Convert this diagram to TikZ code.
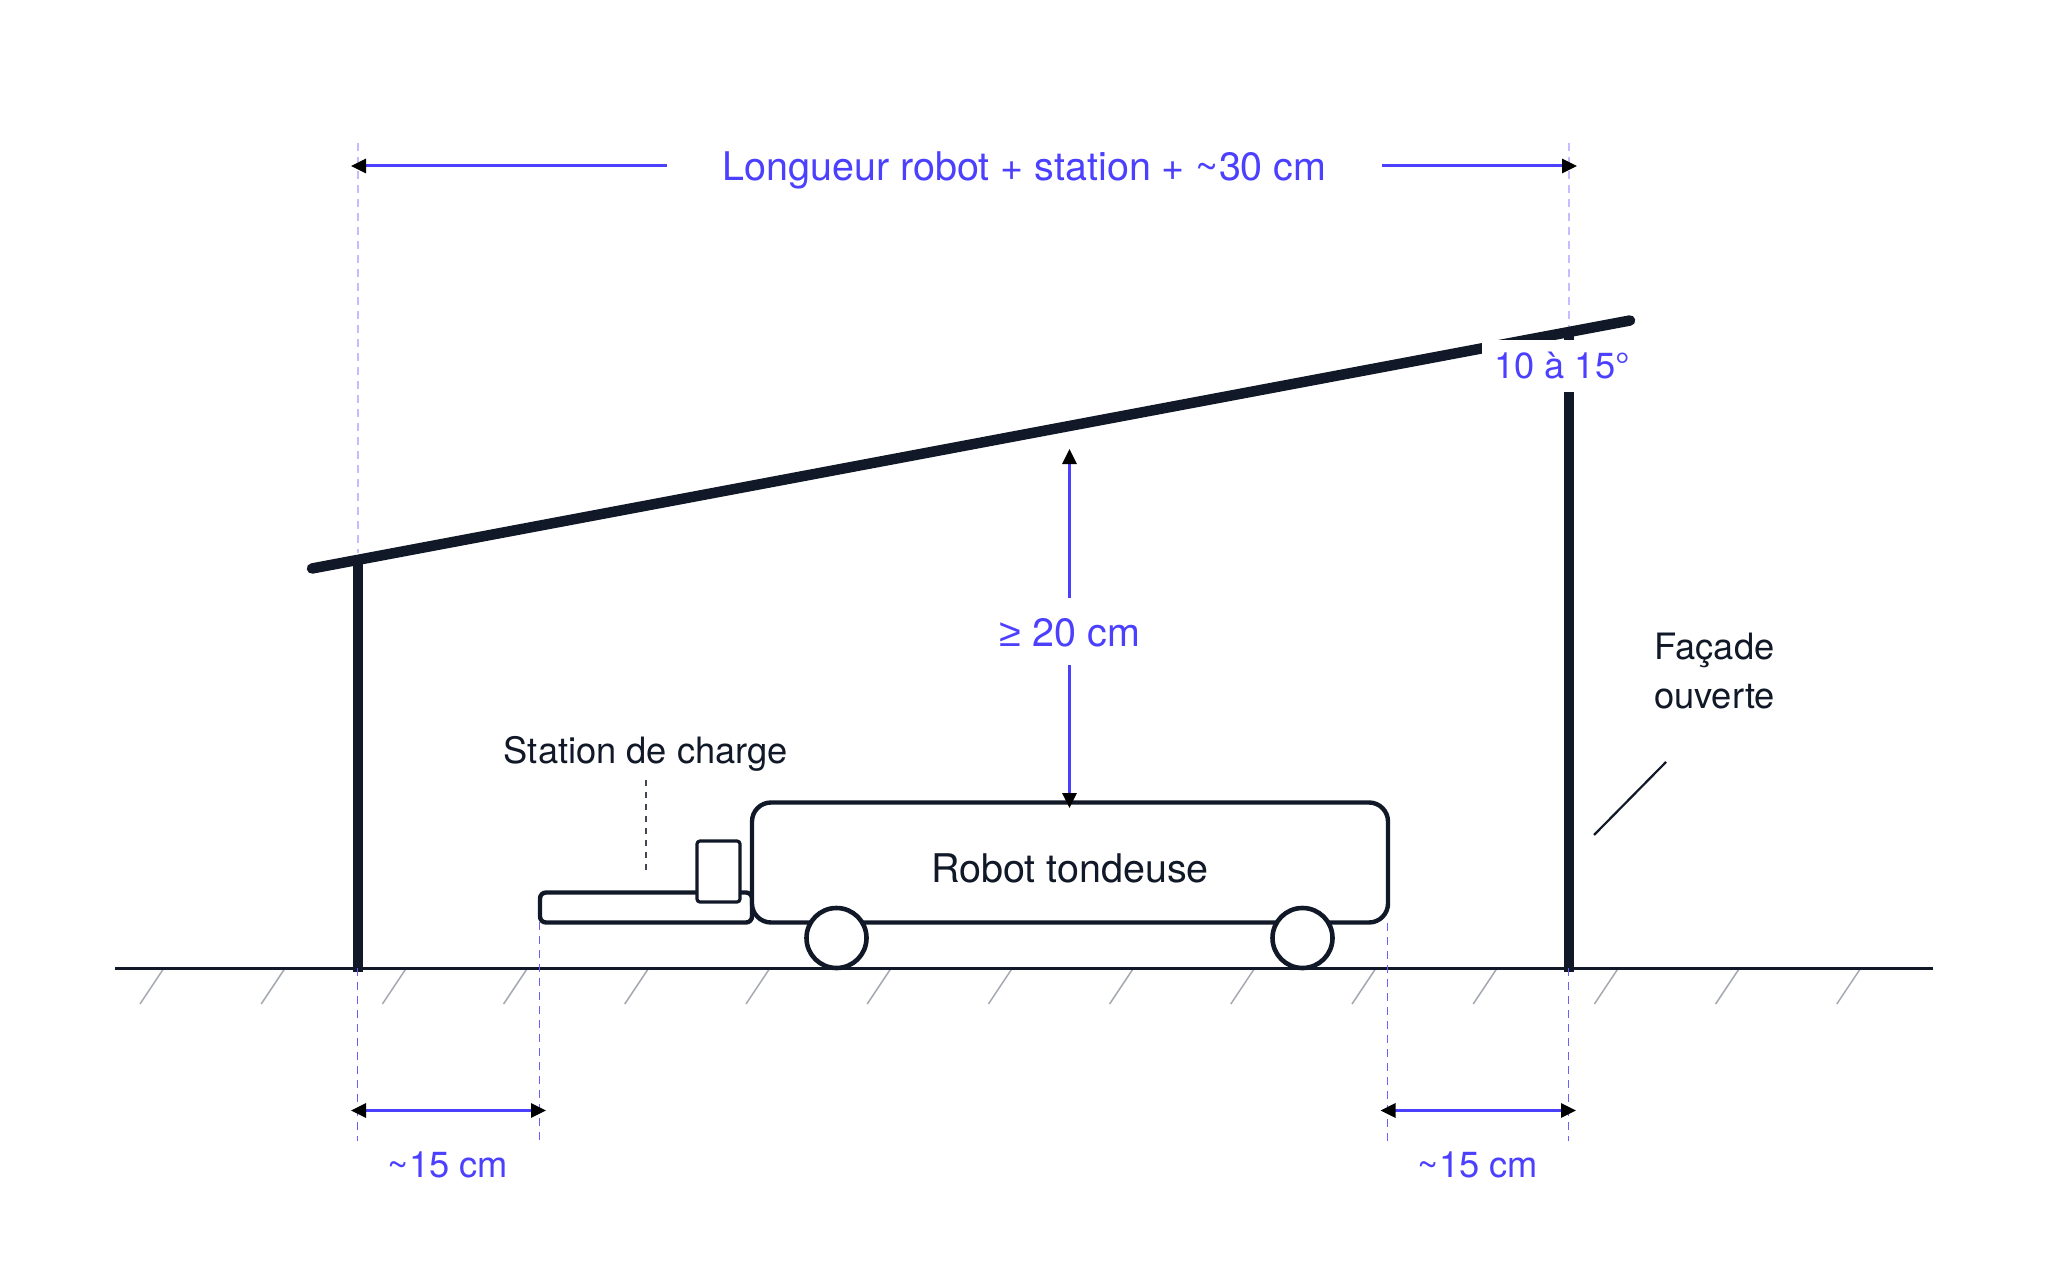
\documentclass[tikz,border=0pt]{standalone}
\usepackage{fontspec}
\setmainfont{TeX Gyre Heros}
\newfontfamily\symfont{Liberation Sans}
\usetikzlibrary{arrows.meta}
\definecolor{ink}{HTML}{111827}
\definecolor{dimblue}{HTML}{4C40FF}
\definecolor{guideblue}{HTML}{6A60FF}
\definecolor{paleblue}{HTML}{C4BEFF}
\definecolor{hatchgray}{HTML}{A4A8B0}
\tikzset{
  x=1pt,y=-1pt,
  every node/.style={inner sep=0pt,outer sep=0pt},
  dimtext/.style={text=dimblue,anchor=base,font=\fontsize{36.3}{36}\selectfont},
  dimtextbig/.style={text=dimblue,anchor=base,font=\fontsize{39.5}{39}\selectfont},
  inktext/.style={text=ink,anchor=base,font=\fontsize{36.3}{36}\selectfont},
  dimline/.style={draw=dimblue,line width=3pt},
  dimtip/.style={-{Triangle[length=15pt,width=14pt,black]}},
  dimboth/.style={{Triangle[length=15pt,width=14pt,black]}-{Triangle[length=15pt,width=14pt,black]}},
  guide/.style={draw=guideblue,line width=1.5pt,dash pattern=on 8pt off 6pt},
  paleguide/.style={draw=paleblue,line width=1.5pt,dash pattern=on 8pt off 6pt},
  structure/.style={draw=ink,line width=9.5pt},
  body/.style={draw=ink,fill=white,line width=4.4pt,rectangle},
  hatch/.style={draw=hatchgray,line width=1.5pt},
}
\begin{document}
\begin{tikzpicture}
\fill[white] (0,0) rectangle (2048,1265);
\useasboundingbox (0,0) rectangle (2048,1265);

% named points
\coordinate (roofL) at (312,568.5);
\coordinate (roofR) at (1630,320.5);
\coordinate (wallLtop) at (358,560);
\coordinate (wallLbot) at (358,972);
\coordinate (wallRtop) at (1569,334);
\coordinate (wallRbot) at (1569,972);
\coordinate (groundL) at (115,968.5);
\coordinate (groundR) at (1933,968.5);

% pale guides, top
\coordinate (gTL) at (358,143);
\coordinate (gTLe) at (358,553);
\coordinate (gTR) at (1569,143);
\coordinate (gTRe) at (1569,330);
\draw[paleguide] (gTL) -- (gTLe);
\draw[paleguide] (gTR) -- (gTRe);

% ground and hatching
\foreach \i in {0,...,14}{
  \coordinate (ha\i) at ({164+121.2*\i},968);
  \coordinate (hb\i) at ({140+121.2*\i},1004);
  \draw[hatch] (ha\i) -- (hb\i);
}
\draw[draw=ink,line width=3pt] (groundL) -- (groundR);

% structure
\draw[structure] (wallLtop) -- (wallLbot);
\draw[structure] (wallRtop) -- (wallRbot);
\draw[structure,line width=10.5pt,line cap=round] (roofL) -- (roofR);

% mask behind the slope label
\fill[white] (1482,339.5) rectangle (1642,392);
\fill[white] (1482,330) -- (1490,339.5) -- (1482,339.5) -- cycle;
\node[dimtext] (slope) at (1562,378) {10 à 15°};

% station
\node[body,rounded corners=6pt,minimum width=212pt,minimum height=30pt] (base) at (646,907.5) {};
\node[body,line width=3.2pt,rounded corners=3pt,minimum width=43pt,minimum height=61pt] (tower) at (718.5,871.5) {};
% robot
\node[body,rounded corners=19pt,minimum width=636pt,minimum height=120pt] (robot) at (1070,862.5) {};
\node[body,circle,line width=4.6pt,minimum size=60pt] (wheelA) at (836.5,938) {};
\node[body,circle,line width=4.6pt,minimum size=60pt] (wheelB) at (1302.5,938) {};
\node[inktext,font=\fontsize{39.5}{39}\selectfont] (robotlabel) at (1070,882.5) {Robot tondeuse};

% station label
\node[inktext] (stationlabel) at (646,763.5) {Station de charge};
\coordinate (lead1) at (646,780);
\coordinate (lead2) at (646,871);
\draw[draw=ink!80,line width=1.6pt,dash pattern=on 6pt off 6pt] (lead1) -- (lead2);

% facade label
\node[inktext] (facadeA) at (1714.5,659.5) {Façade};
\node[inktext] (facadeB) at (1714.5,708.5) {ouverte};
\coordinate (lead3) at (1666,762);
\coordinate (lead4) at (1594,835);
\draw[draw=ink,line width=2.2pt] (lead3) -- (lead4);

% lower guides
\coordinate (g1a) at (357.5,968);   \coordinate (g1b) at (357.5,1141);
\coordinate (g2a) at (539.5,922); \coordinate (g2b) at (539.5,1141);
\coordinate (g3a) at (1387.5,923);\coordinate (g3b) at (1387.5,1141);
\coordinate (g4a) at (1568.5,968);  \coordinate (g4b) at (1568.5,1141);
\draw[guide] (g1a) -- (g1b);
\draw[guide] (g2a) -- (g2b);
\draw[guide] (g3a) -- (g3b);
\draw[guide] (g4a) -- (g4b);

% top dimension
\node[dimtextbig] (toplabel) at (1024.5,180.3) {Longueur robot + station + \char`\~30 cm};
\coordinate (tL) at (351,166); \coordinate (tLs) at (667,166);
\coordinate (tR) at (1577,166); \coordinate (tRs) at (1382,166);
\draw[dimline,dimtip] (tLs) -- (tL);
\draw[dimline,dimtip] (tRs) -- (tR);

% clearance dimension
\node[dimtextbig] (clear) at (1070,646) {{\symfont ≥} 20 cm};
\coordinate (cU) at (1069.5,449); \coordinate (cUs) at (1069.5,598);
\coordinate (cD) at (1069.5,808); \coordinate (cDs) at (1069.5,665);
\draw[dimline,dimtip] (cUs) -- (cU);
\draw[dimline,dimtip] (cDs) -- (cD);

% bottom dimensions
\coordinate (b1) at (351,1110.5); \coordinate (b2) at (546,1110.5);
\coordinate (b3) at (1380.5,1110.5); \coordinate (b4) at (1576,1110.5);
\draw[dimline,dimboth] (b1) -- (b2);
\draw[dimline,dimboth] (b3) -- (b4);
\node[dimtext] (d1) at (448,1177) {\char`\~15 cm};
\node[dimtext] (d2) at (1478,1177) {\char`\~15 cm};
\end{tikzpicture}
\end{document}
